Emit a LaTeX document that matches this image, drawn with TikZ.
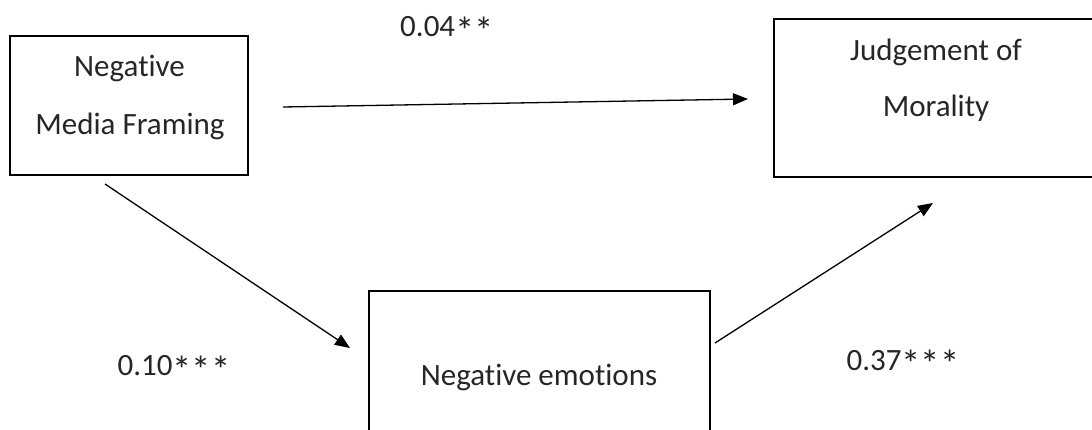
\documentclass[tikz,border=0pt]{standalone}
\usepackage{fontspec}
\setmainfont[Ligatures=NoCommon]{Carlito}
\usetikzlibrary{arrows.meta}
\newcommand{\bigast}{\raisebox{-8pt}{\scalebox{1.25}{*}}}
\begin{document}
\begin{tikzpicture}[x=1pt,y=-1pt,
  box/.style={draw=black, line width=2.6pt, anchor=north west, inner sep=0pt, outer sep=0pt},
  lbl/.style={anchor=base, inner sep=0pt, font=\fontsize{31}{31}\selectfont, text=black!85},
  conn/.style={line width=1.3pt, -{Triangle[length=15pt,width=12pt]}}]
\useasboundingbox (0,0) rectangle (1092,430);
\clip (0,0) rectangle (1092,430);
% boxes
\node[box, minimum width=238pt, minimum height=139pt] (framing) at (10,36) {};
\node[box, minimum width=325pt, minimum height=158pt] (morality) at (774,19) {};
\node[box, minimum width=341pt, minimum height=170pt] (emotions) at (369,291) {};
% box texts
\node[lbl] (framingA) at (129.5,77) {Negative};
\node[lbl] (framingB) at (130,135) {Media Framing};
\node[lbl] (moralityA) at (936,61) {Judgement of};
\node[lbl] (moralityB) at (936,117) {Morality};
\node[lbl] (emotionsA) at (539,385) {Negative emotions};
% coefficients
\node[lbl] (c1) at (447,37) {0.04\bigast\bigast};
\node[lbl] (c2) at (174,375) {0.10\bigast\bigast\bigast};
\node[lbl] (c3) at (903,370) {0.37\bigast\bigast\bigast};
% connectors
\coordinate (p1s) at (283,107);
\coordinate (p1e) at (748,99);
\coordinate (p2s) at (105,184);
\coordinate (p2e) at (350,348);
\coordinate (p3s) at (715,343);
\coordinate (p3e) at (933,203);
\draw[conn] (p1s) -- (p1e);
\draw[conn] (p2s) -- (p2e);
\draw[conn] (p3s) -- (p3e);
\end{tikzpicture}
\end{document}
